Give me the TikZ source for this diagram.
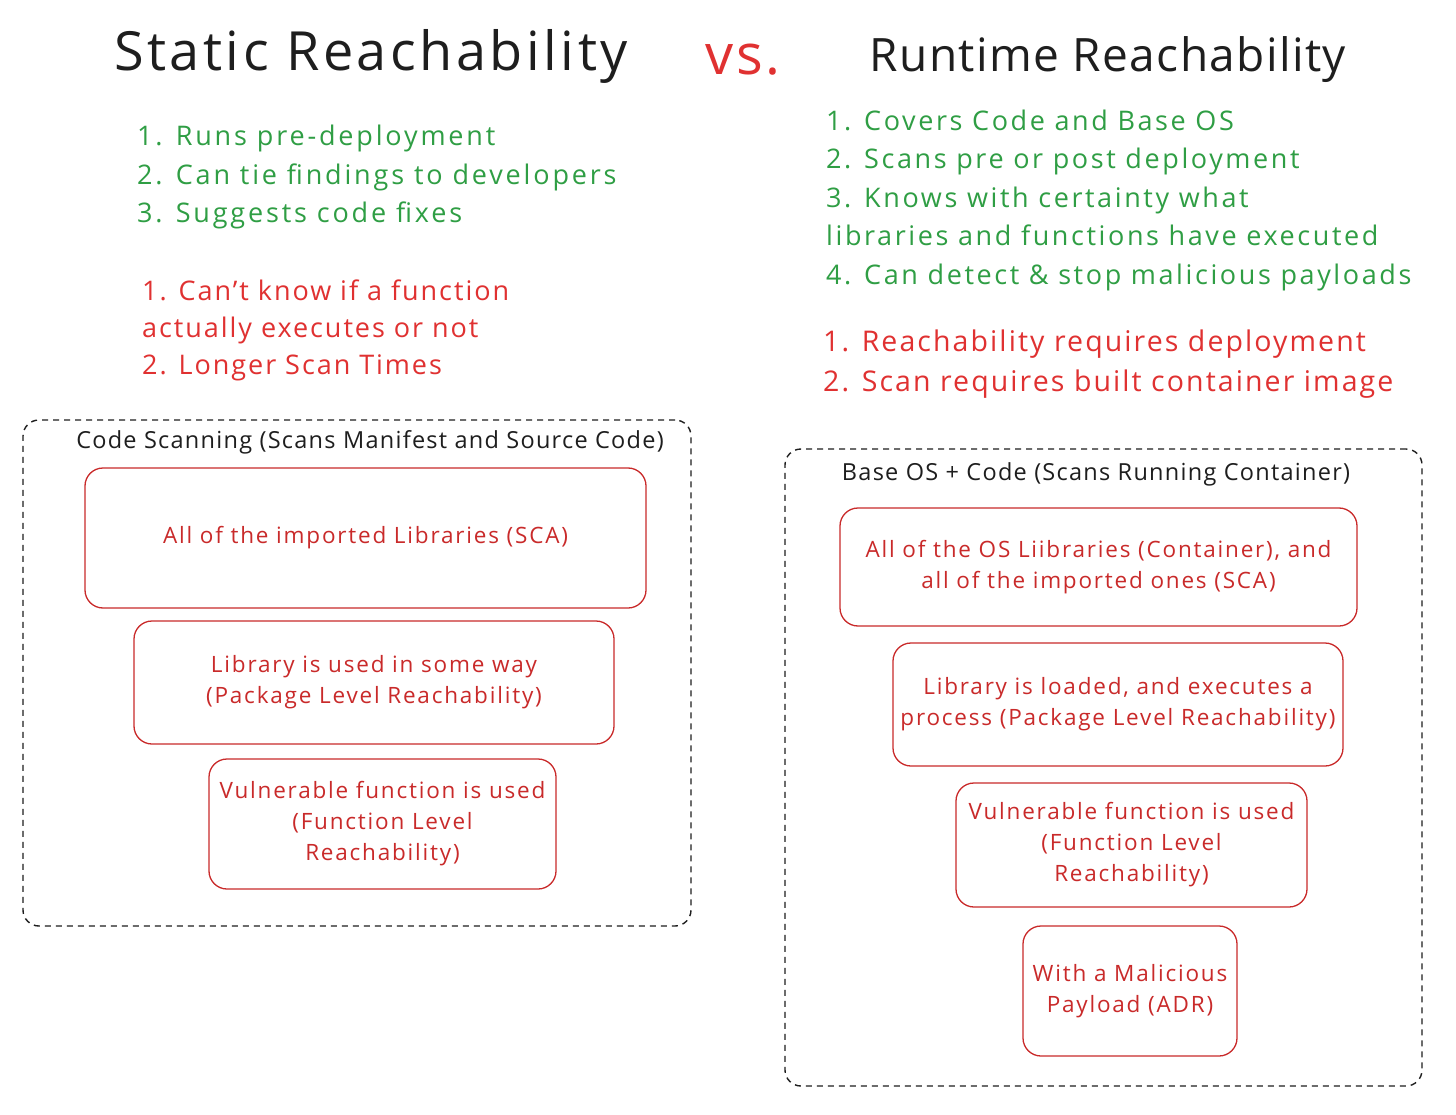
\documentclass[tikz,border=0pt]{standalone}
\usepackage{fontspec}
\setmainfont{Open Sans}
\definecolor{exgreen}{HTML}{2F9E44}
\definecolor{exred}{HTML}{E03131}
\definecolor{boxred}{HTML}{C92A2A}
\definecolor{inkblack}{HTML}{1E1E1E}
\newcommand{\lsp}[1]{\addfontfeatures{LetterSpace=#1}}
\begin{document}
\begin{tikzpicture}[x=1pt,y=-1pt,
  title/.style={text=inkblack,inner sep=0pt},
  listg/.style={anchor=west,align=left,text=exgreen,inner sep=0pt,font=\fontsize{27}{38.5}\selectfont\lsp{10.5}},
  listr/.style={anchor=west,align=left,text=exred,inner sep=0pt,font=\fontsize{27}{37}\selectfont\lsp{7.2}},
  group/.style={draw=inkblack,dashed,dash pattern=on 6pt off 5pt,line width=1.4pt,rounded corners=16pt},
  grouplabel/.style={text=inkblack,inner sep=0pt,font=\fontsize{23.5}{28}\selectfont\lsp{5.4}},
  redbox/.style={draw=boxred,line width=1.3pt,rounded corners=18pt,align=center,text=boxred,
    inner sep=0pt,font=\fontsize{22.5}{31}\selectfont\lsp{8}},
]
\useasboundingbox[fill=white] (0,0) rectangle (1456,1115);

% titles
\node[title,font=\fontsize{54}{60}\selectfont\lsp{6.5}] (tstatic) at (371,56) {Static Reachability};
\node[title,text=exred,font=\fontsize{56}{60}\selectfont\lsp{5}] (tvs) at (743,60) {vs.};
\node[title,font=\fontsize{46}{56}\selectfont\lsp{3}] (truntime) at (1108,60) {Runtime Reachability};

% left lists
\node[listg] (lpro) at (137,177) {1. Runs pre-deployment\\2. Can tie findings to developers\\3. Suggests code fixes};
\node[listr] (lcon) at (142,330) {1. Can't know if a function\\actually executes or not\\2. Longer Scan Times};

% right lists
\node[listg,font=\fontsize{27}{38.5}\selectfont\lsp{9.6}] (rpro) at (826,200) {1. Covers Code and Base OS\\2. Scans pre or post deployment\\3. Knows with certainty what\\libraries and functions have executed\\4. Can detect \& stop malicious payloads};
\node[listr,font=\fontsize{28.5}{40}\selectfont\lsp{7.3}] (rcon) at (823,364) {1. Reachability requires deployment\\2. Scan requires built container image};

% left group
\node[group,minimum width=668pt,minimum height=506pt] (lgroup) at (357,673) {};
\node[grouplabel] (llabel) at (370,442) {Code Scanning (Scans Manifest and Source Code)};
\node[redbox,minimum width=561pt,minimum height=140pt] (lb1) at (365.5,538) {All of the imported Libraries (SCA)};
\node[redbox,minimum width=480pt,minimum height=123pt] (lb2) at (374,682.5) {Library is used in some way\\(Package Level Reachability)};
\node[redbox,minimum width=347pt,minimum height=130pt] (lb3) at (382.5,824) {Vulnerable function is used\\(Function Level\\Reachability)};

% right group
\node[group,minimum width=637pt,minimum height=637pt] (rgroup) at (1103.5,767.5) {};
\node[grouplabel] (rlabel) at (1096,474) {Base OS + Code (Scans Running Container)};
\node[redbox,minimum width=517pt,minimum height=118pt] (rb1) at (1098.5,567) {All of the OS Liibraries (Container), and\\all of the imported ones (SCA)};
\node[redbox,minimum width=450pt,minimum height=123pt] (rb2) at (1118,704.5) {Library is loaded, and executes a\\process (Package Level Reachability)};
\node[redbox,minimum width=351pt,minimum height=124pt] (rb3) at (1131.5,845) {Vulnerable function is used\\(Function Level\\Reachability)};
\node[redbox,minimum width=214pt,minimum height=130pt] (rb4) at (1130,991) {With a Malicious\\Payload (ADR)};
\end{tikzpicture}
\end{document}
